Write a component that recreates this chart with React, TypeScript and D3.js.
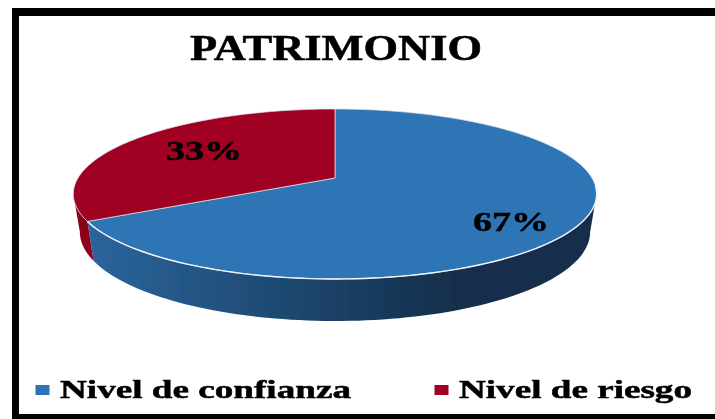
import * as d3 from 'd3';
import React, { useEffect, useRef } from 'react';

const W = 715;
const H = 419;

const title = 'PATRIMONIO';
const categories = ['Nivel de confianza', 'Nivel de riesgo'];
const values = [67, 33];
const colors = ['#2e74b5', '#a00021'];
const labels = ['67%', '33%'];

// perspective disc, apex of the slices is at (cx, cy)
const cx = 335;
const cy = 178;
const B = 257;
const A = 82;
const k = 0.188;

function project(a: number, depth = 0): [number, number] {
  const u = Math.sin(a);
  const v = -Math.cos(a);
  const s = 1 / (1 - k * v);
  const x = cx + B * u * s * (depth ? 0.975 : 1);
  const y = cy + A * v * s + (depth ? 37 + 5 * v : 0);
  return [x, y];
}

function samples(a0: number, a1: number, depth = 0) {
  const n = 90;
  return d3.range(n + 1).map((i) => project(a0 + ((a1 - a0) * i) / n, depth));
}

export default function App() {
  const ref = useRef<SVGSVGElement>(null);

  useEffect(() => {
    const svg = d3.select(ref.current);
    svg.selectAll('*').remove();

    const defs = svg.append('defs');
    const grad = defs
      .append('linearGradient')
      .attr('id', 'wall')
      .attr('gradientUnits', 'userSpaceOnUse')
      .attr('x1', 90)
      .attr('x2', 600)
      .attr('y1', 0)
      .attr('y2', 0);
    grad.append('stop').attr('offset', '0').attr('stop-color', '#2a659c');
    grad.append('stop').attr('offset', '0.5').attr('stop-color', '#1a3f63');
    grad.append('stop').attr('offset', '0.72').attr('stop-color', '#142f4b');
    grad.append('stop').attr('offset', '1').attr('stop-color', '#142f4b');
    defs
      .append('filter')
      .attr('id', 'soft')
      .append('feGaussianBlur')
      .attr('stdDeviation', 0.5);

    const line = d3.line();
    const arcs = d3.pie<number>().sort(null).startAngle(0)(values);
    const blue = arcs[0];
    const red = arcs[1];

    svg.append('rect').attr('width', W).attr('height', H).attr('fill', '#fff');

    const chart = svg.append('g').attr('filter', 'url(#soft)');

    // side walls
    const rightEdge = Math.PI / 2 + 0.19;
    const wallBlue = [
      ...samples(rightEdge, blue.endAngle),
      ...samples(blue.endAngle, rightEdge, 1),
    ];
    chart.append('path').attr('d', line(wallBlue) + 'Z').attr('fill', 'url(#wall)');
    const leftEdge = (3 * Math.PI) / 2 - 0.19;
    const wallRed = [
      ...samples(red.startAngle, leftEdge),
      ...samples(leftEdge, red.startAngle, 1),
    ];
    chart.append('path').attr('d', line(wallRed) + 'Z').attr('fill', '#8c001c');

    // top slices
    arcs.forEach((d, i) => {
      const pts = [[cx, cy] as [number, number], ...samples(d.startAngle, d.endAngle)];
      chart
        .append('path')
        .attr('d', line(pts) + 'Z')
        .attr('fill', colors[i])
        .attr('stroke', '#dfe6ee')
        .attr('stroke-width', 0.7)
        .attr('stroke-linejoin', 'round');
    });

    // brighter rim along the front of the disc
    chart
      .append('path')
      .attr('d', line(samples(rightEdge - 0.1, blue.endAngle)))
      .attr('fill', 'none')
      .attr('stroke', '#eef2f6')
      .attr('stroke-width', 1.4);

    // frame: left, top and bottom bars only, it runs off the right edge
    svg
      .append('path')
      .attr('fill', '#000')
      .attr('shape-rendering', 'crispEdges')
      .attr('d', `M12 8H${W}V15.5H19V414H${W}V${H}H12Z`);

    const txt = svg
      .append('g')
      .attr('font-family', '"Liberation Serif", serif')
      .attr('font-weight', 700)
      .attr('fill', '#000')
      .attr('stroke', '#000')
      .attr('stroke-width', 0.5)
      .attr('filter', 'url(#soft)');

    txt
      .append('text')
      .attr('x', 190)
      .attr('y', 60)
      .attr('font-size', 35)
      .attr('textLength', 292)
      .attr('lengthAdjust', 'spacingAndGlyphs')
      .text(title);

    const labelPos: [number, number][] = [
      [473, 231],
      [166, 160],
    ];
    labels.forEach((l, i) => {
      txt
        .append('text')
        .attr('x', labelPos[i][0])
        .attr('y', labelPos[i][1])
        .attr('font-size', 28)
        .attr('textLength', 76)
        .attr('lengthAdjust', 'spacingAndGlyphs')
        .text(l);
    });

    const legendX = [60, 459];
    const legendLen = [291, 233];
    categories.forEach((c, i) => {
      svg
        .append('rect')
        .attr('x', legendX[i] - 24.5)
        .attr('y', 385)
        .attr('width', 14)
        .attr('height', 10)
        .attr('fill', colors[i]);
      txt
        .append('text')
        .attr('x', legendX[i])
        .attr('y', 398)
        .attr('font-size', 26)
        .attr('textLength', legendLen[i])
        .attr('lengthAdjust', 'spacingAndGlyphs')
        .text(c);
    });
  }, []);

  return (
    <svg
      ref={ref}
      width={W}
      height={H}
      style={{ position: 'fixed', left: 0, top: 0, display: 'block' }}
    />
  );
}
